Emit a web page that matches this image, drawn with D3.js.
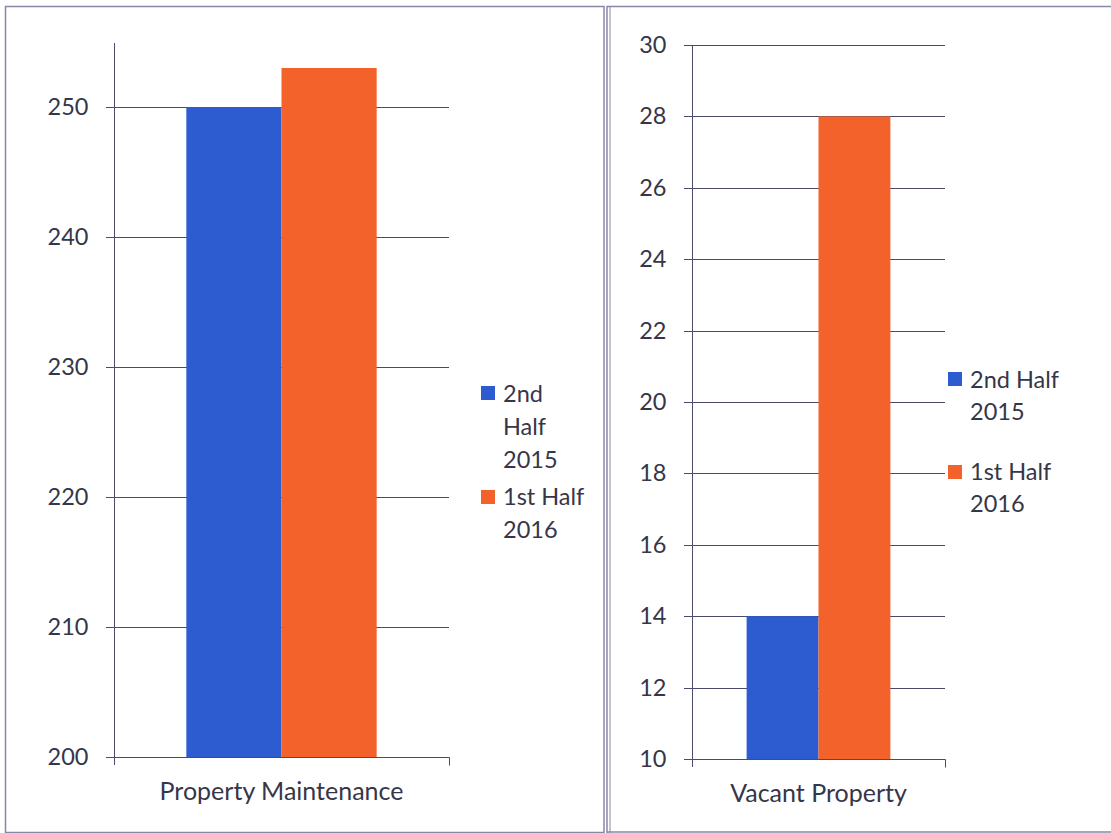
<!DOCTYPE html>
<html><head><meta charset="utf-8">
<script src="https://cdn.jsdelivr.net/npm/d3@7"></script>
<style>
html,body{margin:0;padding:0;background:#fff;}
svg{display:block;}
text{font-family:Lato,"Open Sans",sans-serif;fill:#363648;}
</style></head>
<body>
<svg id="c" width="1111" height="833"></svg>
<script>
const seriesNames = ["2nd Half 2015", "1st Half 2016"];
const seriesColors = ["#2d5bd0", "#f4622b"];
const leftCategory = "Property Maintenance";
const leftValues = [250, 253];
const leftTicks = [200, 210, 220, 230, 240, 250];
const rightCategory = "Vacant Property";
const rightValues = [14, 28];
const rightTicks = [10, 12, 14, 16, 18, 20, 22, 24, 26, 28, 30];
const leftLegendLines = [["2nd", "Half", "2015"], ["1st Half", "2016"]];
const rightLegendLines = [["2nd Half", "2015"], ["1st Half", "2016"]];

const svg = d3.select("#c");
const lineColor = "#4a4a6a";
const borderColor = "#8a86a8";
const FS = 23.5;
const CFS = 25;

// panel borders
svg.append("rect").attr("x",5.5).attr("y",6.5).attr("width",598.5).attr("height",826)
  .attr("fill","none").attr("stroke",borderColor).attr("stroke-width",1.5);
svg.append("line").attr("x1",607).attr("x2",607).attr("y1",6).attr("y2",833).attr("stroke",borderColor).attr("stroke-width",1.5);
svg.append("line").attr("x1",610).attr("x2",610).attr("y1",6).attr("y2",833).attr("stroke",borderColor).attr("stroke-width",1);
svg.append("line").attr("x1",607).attr("x2",1111).attr("y1",6.5).attr("y2",6.5).attr("stroke",borderColor).attr("stroke-width",1.5);
svg.append("line").attr("x1",607).attr("x2",1111).attr("y1",832).attr("y2",832).attr("stroke",borderColor).attr("stroke-width",1.5);

function panel(cfg){
  const g = svg.append("g");
  const y = d3.scaleLinear().domain(cfg.domain).range([cfg.y0, cfg.y1]);
  const x = d3.scaleBand().domain([cfg.category]).range([cfg.x0, cfg.x1]);
  const inner = d3.scaleBand().domain(seriesNames).range([0, x.bandwidth()]).paddingInner(0).paddingOuter(cfg.outerPad);
  // gridlines
  g.selectAll(".grid").data(cfg.ticks).enter().append("line")
    .attr("x1", cfg.x0 - 8).attr("x2", cfg.x1)
    .attr("y1", d=>Math.round(y(d))+0.5).attr("y2", d=>Math.round(y(d))+0.5)
    .attr("stroke", lineColor).attr("stroke-width",1);
  // bars
  g.selectAll(".bar").data(cfg.values).enter().append("rect")
    .attr("x", (d,i)=>x(cfg.category)+inner(seriesNames[i]))
    .attr("width", inner.bandwidth())
    .attr("y", d=>y(d)).attr("height", d=>y(cfg.domain[0])-y(d))
    .attr("fill", (d,i)=>seriesColors[i]);
  // y axis
  const ya = d3.axisLeft(y).tickValues(cfg.ticks).tickSize(0).tickPadding(cfg.tickPad);
  const ag = g.append("g").attr("transform",`translate(${cfg.x0+0.5},0)`).call(ya);
  ag.select(".domain").attr("stroke", lineColor).attr("d", `M0,${cfg.yTop}V${cfg.y0+8}`);
  ag.selectAll("text").attr("font-size", FS).attr("fill","#363648").style("font-family","Lato,sans-serif");
  // x axis
  const xa = d3.axisBottom(x).tickSize(0).tickPadding(25);
  const xg = g.append("g").attr("transform",`translate(0,${Math.round(y(cfg.domain[0]))+0.5})`).call(xa);
  xg.select(".domain").attr("stroke", lineColor).attr("d", `M${cfg.x0-8},0H${cfg.x1+0.5}V8`);
  xg.selectAll("text").attr("font-size", CFS).attr("fill","#363648").style("font-family","Lato,sans-serif");
  // legend
  const lg = g.append("g");
  cfg.legend.forEach((lines, i)=>{
    lg.append("rect").attr("x", cfg.lx).attr("y", cfg.sy[i]).attr("width",14).attr("height",14)
      .attr("fill", seriesColors[i]);
    lines.forEach((t,j)=>{
      lg.append("text").attr("x", cfg.lx+22).attr("y", cfg.ty[i]+j*cfg.lh)
        .attr("font-size",FS).text(t);
    });
  });
}

panel({category:leftCategory, values:leftValues, ticks:leftTicks, domain:[200,255],
  y0:757, y1:42, yTop:43, x0:114, x1:449, outerPad:0.76, tickPad:26,
  legend:leftLegendLines, lx:481, sy:[386, 490], ty:[401.5, 504.5], lh:33});
panel({category:rightCategory, values:rightValues, ticks:rightTicks, domain:[10,30],
  y0:759, y1:45, yTop:45, x0:692, x1:945, outerPad:0.76, tickPad:26,
  legend:rightLegendLines, lx:948, sy:[372, 465], ty:[387.5, 479.5], lh:32});
</script>
</body></html>
